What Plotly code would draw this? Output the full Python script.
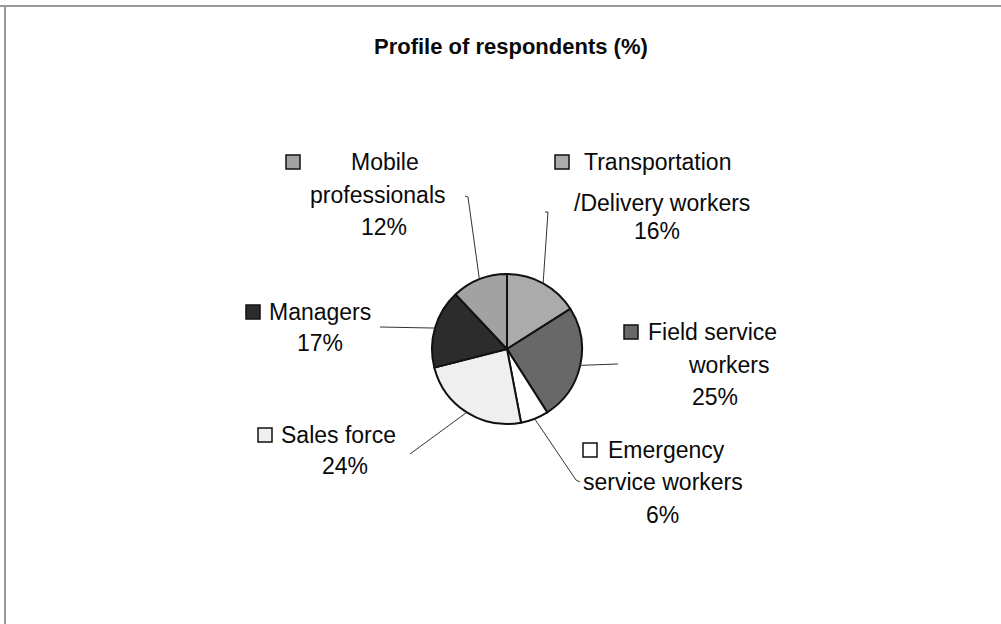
import math
import plotly.graph_objects as go

# Survey breakdown, clockwise from 12 o'clock
categories = ["Transportation /Delivery workers", "Field service workers",
              "Emergency service workers", "Sales force", "Managers",
              "Mobile professionals"]
shares = [16, 25, 6, 24, 17, 12]
label_lines = [["Transportation", "/Delivery workers"],
               ["Field service", "workers"],
               ["Emergency", "service workers"],
               ["Sales force"],
               ["Managers"],
               ["Mobile", "professionals"]]
slice_colors = ["#ababab", "#686868", "#ffffff", "#efefef", "#2c2c2c", "#a2a2a2"]

W, H = 1001, 624
FONT = "Liberation Sans, Arial, sans-serif"

# pie geometry in pixels
cx, cy, r = 507, 349, 75


def px(x):
    return x / W


def py(y):
    return 1 - y / H


# label layout per slice: key square, text lines (x, y), percentage (x, y), leader path end points
label_layout = [
    dict(key=(562, 162), lines=[(657, 162), (662, 203)], pct=(657, 231),
         leader=[(548, 212), (545, 212)]),
    dict(key=(631, 332), lines=[(712, 332), (729, 365)], pct=(715, 397),
         leader=[(618, 364)]),
    dict(key=(590, 450), lines=[(666, 450), (663, 482)], pct=(662, 515),
         leader=[(576, 480), (580, 482)]),
    dict(key=(265, 435), lines=[(338, 435)], pct=(345, 466),
         leader=[(410, 454)]),
    dict(key=(253, 312), lines=[(320, 312)], pct=(320, 343),
         leader=[(380, 327)]),
    dict(key=(293, 162), lines=[(385, 162), (378, 195)], pct=(384, 227),
         leader=[(468, 197), (465, 196)]),
]

fig = go.Figure()
fig.add_trace(go.Pie(
    labels=categories,
    values=shares,
    sort=False,
    direction="clockwise",
    rotation=0,
    textinfo="none",
    hoverinfo="label+percent",
    marker=dict(colors=slice_colors, line=dict(color="#111111", width=2)),
    domain=dict(x=[px(cx - r), px(cx + r)], y=[py(cy + r), py(cy - r)]),
    showlegend=False,
))

shapes = []
annotations = []

# frame edges of the page
shapes.append(dict(type="line", xref="paper", yref="paper",
                   x0=0, x1=1, y0=py(6), y1=py(6),
                   line=dict(color="#9a9a9a", width=2)))
shapes.append(dict(type="line", xref="paper", yref="paper",
                   x0=px(5), x1=px(5), y0=py(6), y1=0,
                   line=dict(color="#9a9a9a", width=2)))

total = sum(shares)
cum = 0
for value, color, lines, lay in zip(shares, slice_colors, label_lines, label_layout):
    mid = (cum + value / 2) / total * 2 * math.pi
    cum += value
    sx = cx + r * math.sin(mid)
    sy = cy - r * math.cos(mid)
    pts = [(sx, sy)] + lay["leader"]
    path = "M " + " L ".join(f"{px(x):.5f},{py(y):.5f}" for x, y in pts)
    shapes.append(dict(type="path", xref="paper", yref="paper", path=path,
                       line=dict(color="#333333", width=1)))
    kx, ky = lay["key"]
    shapes.append(dict(type="rect", xref="paper", yref="paper",
                       x0=px(kx - 7), x1=px(kx + 7), y0=py(ky + 7), y1=py(ky - 7),
                       fillcolor=color, line=dict(color="#111111", width=1.5)))
    for text, (tx, ty) in zip(lines, lay["lines"]):
        annotations.append(dict(x=px(tx), y=py(ty), xref="paper", yref="paper",
                                text=text, showarrow=False, xanchor="center",
                                yanchor="middle",
                                font=dict(family=FONT, size=23, color="#0a0a0a")))
    tx, ty = lay["pct"]
    annotations.append(dict(x=px(tx), y=py(ty), xref="paper", yref="paper",
                            text=f"{value}%", showarrow=False, xanchor="center",
                            yanchor="middle",
                            font=dict(family=FONT, size=23, color="#0a0a0a")))

annotations.append(dict(x=px(511), y=py(47), xref="paper", yref="paper",
                        text="<b>Profile of respondents (%)</b>", showarrow=False,
                        xanchor="center", yanchor="middle",
                        font=dict(family=FONT, size=22, color="#0a0a0a")))

fig.update_layout(
    width=W, height=H,
    margin=dict(l=0, r=0, t=0, b=0),
    paper_bgcolor="white",
    plot_bgcolor="white",
    shapes=shapes,
    annotations=annotations,
)

fig.write_html("out.html")
